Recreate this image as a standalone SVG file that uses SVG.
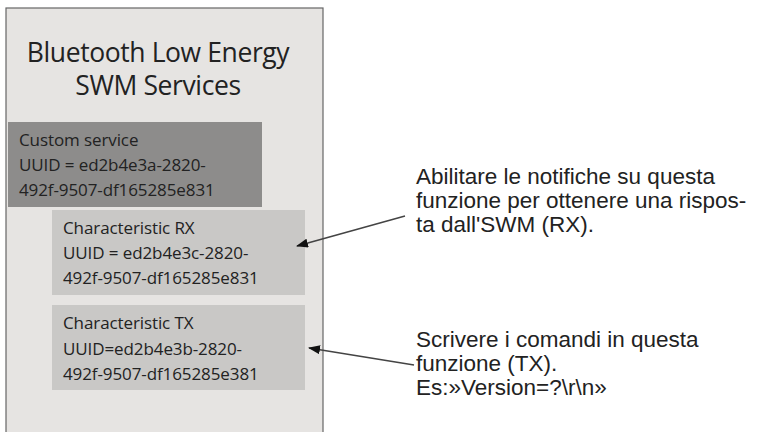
<svg xmlns="http://www.w3.org/2000/svg" width="762" height="432" viewBox="0 0 762 432">
<style>
.l{font-family:"Open Sans","Noto Sans",sans-serif;font-size:17px;fill:#222;letter-spacing:-0.1px}
.r{font-family:"Liberation Sans",Arial,sans-serif;font-size:22.5px;fill:#222}
.c{stroke:#444;stroke-width:1.6;fill:none;marker-end:url(#a)}
</style>
<defs><marker id="a" markerWidth="12" markerHeight="9" refX="11" refY="4.5" orient="auto" markerUnits="userSpaceOnUse"><path d="M0,0L12,4.5L0,9z" fill="#111"/></marker></defs>
<rect width="762" height="432" fill="#fff"/>
<g id="outer"><rect x="6" y="8" width="317" height="440" fill="#e6e4e2" stroke="#666" stroke-width="1.2"/>
<text x="158" y="62" text-anchor="middle" font-family="Open Sans,Noto Sans,sans-serif" font-size="26.5" letter-spacing="-0.4" fill="#222">Bluetooth Low Energy</text>
<text x="158" y="95" text-anchor="middle" font-family="Open Sans,Noto Sans,sans-serif" font-size="26.5" letter-spacing="-0.4" fill="#222">SWM Services</text></g>
<g id="custom"><rect x="8" y="122" width="254" height="85" fill="#8d8c8b"/>
<text class="l" x="19" y="146">Custom service</text><text class="l" x="19" y="171">UUID = ed2b4e3a-2820-</text><text class="l" x="19" y="196">492f-9507-df165285e831</text></g>
<g id="rx"><rect x="52" y="210" width="253" height="85" fill="#c9c8c6"/>
<text class="l" x="63" y="234">Characteristic RX</text><text class="l" x="63" y="259">UUID = ed2b4e3c-2820-</text><text class="l" x="63" y="284">492f-9507-df165285e831</text></g>
<g id="tx"><rect x="52" y="305" width="253" height="85" fill="#c9c8c6"/>
<text class="l" x="63" y="329">Characteristic TX</text><text class="l" x="63" y="355">UUID=ed2b4e3b-2820-</text><text class="l" x="63" y="380">492f-9507-df165285e381</text></g>
<g id="noteRX"><text class="r" x="416" y="184">Abilitare le notifiche su questa</text><text class="r" x="416" y="208">funzione per ottenere una rispos-</text><text class="r" x="416" y="232">ta dall'SWM (RX).</text></g>
<g id="noteTX"><text class="r" x="416" y="347">Scrivere i comandi in questa</text><text class="r" x="416" y="371">funzione (TX).</text><text class="r" x="416" y="395">Es:»Version=?\r\n»</text></g>
<g id="connectors"><path class="c" d="M405,216L297,246"/><path class="c" d="M414,365L309,348"/></g>
</svg>
